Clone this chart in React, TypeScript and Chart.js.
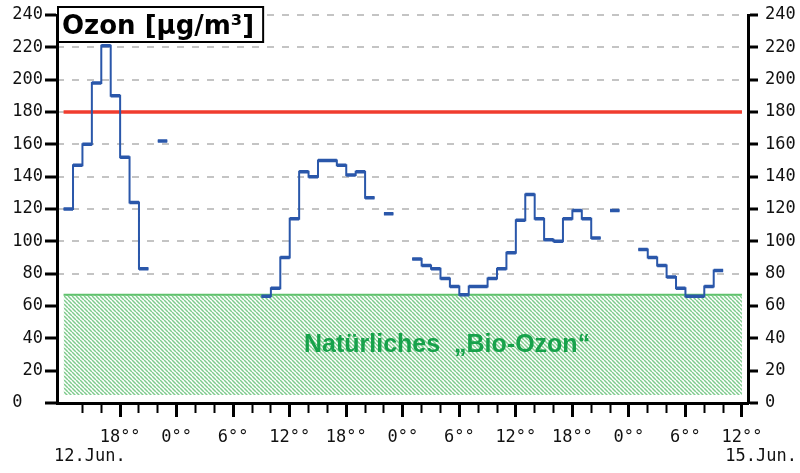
import React, { useEffect, useRef } from 'react';
import { Chart, registerables } from 'chart.js';

Chart.register(...registerables);

// Hourly ozone values (µg/m³); each value holds for one hour starting at the given hour.
// Hours are counted from 12 Jun 00:00.
const FIRST_HOUR = 12;
const OZONE_12JUN = [120, 147, 160, 198, 221, 190, 152, 124, 83, null, 162, null]; // 12:00..23:00
const OZONE_13JUN = [null, null, null, null, null, null, null, null, null, 66, 71, 90, 114, 143, 140, 150, 150, 147, 141, 143, 127, null, 117, null];
const OZONE_14JUN = [null, 89, 85, 83, 77, 72, 67, 72, 72, 77, 83, 93, 113, 129, 114, 101, 100, 114, 119, 114, 102, null, 119, null];
const OZONE_15JUN = [null, 95, 90, 85, 78, 71, 66, 66, 72, 82]; // 00:00..09:00

const LIMIT_VALUE = 180; // information threshold
const BIO_OZONE = 67; // natural "bio ozone" level
const LINE_HOURS = [12, 84];

const X_MIN = 11.3;
const X_MAX = 84.64;
const TICK_HOURS = [14, 16, 18, 20, 22, 24, 26, 28, 30, 32, 34, 36, 38, 40, 42, 44, 46, 48, 50, 52, 54, 56, 58, 60, 62, 64, 66, 68, 70, 72, 74, 76, 78, 80, 82, 84];

const TITLE = 'Ozon [µg/m³]';
const BIO_LABEL = 'Natürliches  „Bio-Ozon“';
const DATE_START = '12.Jun.';
const DATE_END = '15.Jun.';

const BLUE = '#2a57aa';
const RED = '#f03c2e';
const GREEN_LINE = '#5fc26c';
const GREEN_HATCH = '#7fcb8d';
const GREEN_TEXT = '#17a24b';
const GRID = '#c4c4c4';
const MONO = "'DejaVu Sans Mono', monospace";

function buildSteps(values: (number | null)[], start: number) {
  const pts: { x: number; y: number | null }[] = [];
  values.forEach((v, i) => {
    if (v == null) return;
    const h = start + i;
    pts.push({ x: h, y: v });
    const next = values[i + 1];
    if (next == null) {
      pts.push({ x: h + 1, y: v });
      pts.push({ x: h + 1, y: null });
    }
  });
  return pts;
}

function buildPieces(values: (number | null)[], start: number) {
  const pts: { x: number; y: number | null }[] = [];
  values.forEach((v, i) => {
    if (v == null) return;
    const h = start + i;
    pts.push({ x: h, y: v });
    pts.push({ x: h + 1, y: v });
    pts.push({ x: h + 1, y: null });
  });
  return pts;
}

function makeHatch(): CanvasPattern | string {
  const c = document.createElement('canvas');
  c.width = 4;
  c.height = 4;
  const g = c.getContext('2d');
  if (!g) return GREEN_HATCH;
  g.strokeStyle = GREEN_HATCH;
  g.lineWidth = 1.5;
  for (const x0 of [-4, 0, 4]) {
    g.beginPath();
    g.moveTo(x0, 0);
    g.lineTo(x0 + 4, 4);
    g.stroke();
  }
  return g.createPattern(c, 'repeat') || GREEN_HATCH;
}

const textPlugin = {
  id: 'ozoneTexts',
  afterDraw(chart: any) {
    const { ctx, chartArea, scales } = chart;
    ctx.save();
    // title box
    ctx.font = "bold 26px 'DejaVu Sans'";
    const w = ctx.measureText(TITLE).width;
    const bx = chartArea.left;
    const by = 6;
    const bw = w + 15;
    const bh = 37;
    ctx.fillStyle = '#ffffff';
    ctx.fillRect(bx, by, bw, bh);
    ctx.lineWidth = 2;
    ctx.strokeStyle = '#000';
    ctx.strokeRect(bx + 1, by + 1, bw - 2, bh - 2);
    ctx.fillStyle = '#000';
    ctx.textAlign = 'left';
    ctx.textBaseline = 'alphabetic';
    ctx.fillText(TITLE, bx + 5, by + 28);
    // bio-ozone label
    ctx.font = "bold 25px 'Liberation Sans', Arial, sans-serif";
    ctx.fillStyle = GREEN_TEXT;
    ctx.textAlign = 'center';
    ctx.fillText(BIO_LABEL, scales.x.getPixelForValue(52.7), scales.y.getPixelForValue(31.5));
    // dates
    ctx.font = `17px ${MONO}`;
    ctx.fillStyle = '#111';
    ctx.textAlign = 'left';
    ctx.fillText(DATE_START, 54, 461);
    ctx.textAlign = 'right';
    ctx.fillText(DATE_END, 797, 461);
    ctx.restore();
  },
};

export default function App() {
  const ref = useRef<HTMLCanvasElement | null>(null);

  useEffect(() => {
    document.body.style.margin = '0';
    if (!ref.current) return;
    const values = [...OZONE_12JUN, ...OZONE_13JUN, ...OZONE_14JUN, ...OZONE_15JUN];
    const hatch = makeHatch();

    const yCommon = (position: 'left' | 'right') => ({
      type: 'linear' as const,
      position,
      min: 0,
      max: 240,
      ticks: {
        stepSize: 20,
        padding: position === 'left' ? 2 : 7,
        color: '#111',
        font: { family: MONO, size: 17 },
        callback: (v: any) => (position === 'left' && v === 0 ? '0  ' : String(v)),
      },
      grid: {
        display: true,
        drawOnChartArea: position === 'left',
        drawTicks: true,
        tickLength: position === 'left' ? 12 : 10,
        tickWidth: 3,
        tickColor: '#000',
        lineWidth: 2,
        color: (c: any) => (c.tick && c.tick.value >= 80 ? GRID : 'rgba(0,0,0,0)'),
      },
      border: { display: true, color: '#000', width: 3, dash: [7, 8], dashOffset: 2 },
      afterFit: (s: any) => {
        s.width = position === 'left' ? 57 : 52;
        s.paddingTop = 0;
        s.paddingBottom = 0;
      },
    });

    const chart = new Chart(ref.current, {
      type: 'line',
      data: {
        datasets: [
          {
            data: buildPieces(values, FIRST_HOUR),
            borderColor: BLUE,
            borderWidth: 3.5,
            pointRadius: 0,
            spanGaps: false,
            order: 0,
          },
          {
            data: buildSteps(values, FIRST_HOUR),
            borderColor: BLUE,
            borderWidth: 2,
            pointRadius: 0,
            stepped: 'before',
            spanGaps: false,
            order: 1,
          },
          {
            data: LINE_HOURS.map((h) => ({ x: h, y: LIMIT_VALUE })),
            borderColor: RED,
            borderWidth: 3.5,
            pointRadius: 0,
            order: 2,
          },
          {
            data: LINE_HOURS.map((h) => ({ x: h, y: BIO_OZONE })),
            borderColor: GREEN_LINE,
            borderWidth: 2,
            pointRadius: 0,
            fill: { value: 5 },
            backgroundColor: hatch as any,
            order: 3,
          },
        ] as any,
      },
      options: {
        responsive: false,
        animation: false,
        devicePixelRatio: 1,
        layout: { padding: { top: 15, left: 0, right: 0, bottom: 0 } },
        plugins: { legend: { display: false }, tooltip: { enabled: false }, title: { display: false } },
        scales: {
          x: {
            type: 'linear',
            position: 'bottom',
            min: X_MIN,
            max: X_MAX,
            afterBuildTicks: (s: any) => {
              s.ticks = TICK_HOURS.map((v) => ({ value: v }));
            },
            afterFit: (s: any) => {
              s.height = 70;
              s.paddingLeft = 0;
              s.paddingRight = 0;
            },
            ticks: {
              autoSkip: false,
              maxRotation: 0,
              minRotation: 0,
              padding: 10,
              color: '#111',
              font: { family: MONO, size: 17 },
              callback: (v: any) => (Number(v) % 6 === 0 ? `${Number(v) % 24}°°` : ''),
            },
            grid: {
              display: true,
              drawOnChartArea: false,
              drawTicks: true,
              tickLength: 14,
              tickColor: '#000',
              tickWidth: (c: any) => (c.tick && c.tick.value % 6 === 0 ? 3 : 2),
              tickBorderDash: (c: any) => (c.tick && c.tick.value % 6 === 0 ? [] : [8, 40]),
            },
            border: { display: true, color: '#000', width: 3 },
          },
          y: yCommon('left'),
          y2: yCommon('right'),
        } as any,
      },
      plugins: [textPlugin],
    });
    return () => chart.destroy();
  }, []);

  return (
    <div style={{ width: 800, height: 473, background: '#fff' }}>
      <canvas ref={ref} width={800} height={473} />
    </div>
  );
}
